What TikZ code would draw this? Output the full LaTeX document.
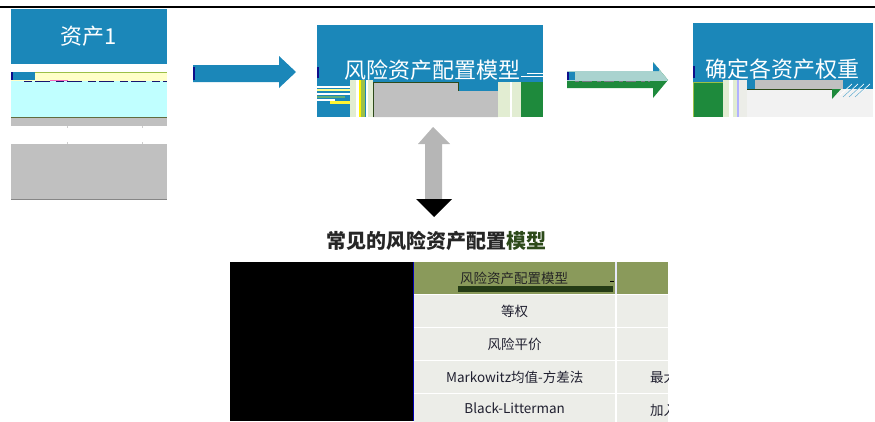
\documentclass[tikz,border=0pt]{standalone}
\usepackage{fontspec}
\setmainfont{Noto Sans CJK SC}
\usetikzlibrary{positioning}
\definecolor{boxblue}{HTML}{1B87B9}
\definecolor{gblue}{HTML}{0E0E8A}
\definecolor{ggray}{HTML}{C0C0C0}
\definecolor{gcyan}{HTML}{C0FFFF}
\definecolor{gyellow}{HTML}{FFFFC8}
\definecolor{ggreen}{HTML}{1E8A3C}
\definecolor{gpale}{HTML}{E2EDD2}
\definecolor{glime}{HTML}{9CC048}
\definecolor{gteal}{HTML}{A9D3CF}
\definecolor{olive}{HTML}{8A9A5B}
\definecolor{cellc}{HTML}{ECEDE8}
\definecolor{mgreen}{HTML}{2D4A1A}
\definecolor{tdark}{HTML}{202030}
\definecolor{lgray}{HTML}{F2F2F2}
\tikzset{
  bluebox/.style={fill=boxblue, draw=none, inner sep=0pt, text=white, font=\fontsize{22}{26}\selectfont},
  cellbox/.style={fill=cellc, draw=none, inner sep=0pt, text=tdark, font=\fontsize{13.5}{16}\selectfont},
  hdrbox/.style={fill=olive, draw=none, inner sep=0pt},
  celltext/.style={inner sep=0pt, text=tdark, font=\fontsize{13.5}{16}\selectfont},
}
\begin{document}
\begin{tikzpicture}[x=1pt,y=-1pt]
\useasboundingbox (0,0) rectangle (875,421);
% top rule
\draw[line width=2pt] (0,7) -- (875,7);

% ---------- box 1 ----------
\node[bluebox, minimum width=156pt, minimum height=55pt] (b1) at (89,36.5) {资产1};
\fill[gyellow] (11,72) rectangle (167,81);
\draw[glime, line width=0.8pt] (11,72.4) -- (167,72.4);
\fill[boxblue] (11,72) rectangle (35,80);
\fill[gblue] (11,72) rectangle (12.5,80);
\fill[gcyan] (11,81) rectangle (167,117);
\draw[line width=0.9pt, color=tdark!70!blue, dash pattern=on 8pt off 3pt on 15pt off 6pt] (24,81.3) -- (167,81.3);
\draw[line width=0.8pt, color=magenta!60] (50,80.6) -- (68,80.6);
\draw[line width=0.8pt, color=olive!70!black] (11,117.5) -- (167,117.5);
\fill[ggray] (11,118) rectangle (167,126);
\draw[ggray!80, line width=0.6pt] (67,126) -- (67,128) (142,126) -- (142,128) (67,142) -- (67,144) (142,142) -- (142,144);
\fill[ggray] (11,144) rectangle (167,199);
\draw[ggray!70!black, line width=0.7pt] (11,199) -- (167,199);

% ---------- arrow 1 ----------
\fill[boxblue] (193,65) -- (279,65) -- (279,56) -- (296,72) -- (279,88) -- (279,82) -- (193,82) -- cycle;
\fill[gblue] (193,67) rectangle (194.5,80);

% ---------- box 2 ----------
\node[bluebox, minimum width=226pt, minimum height=92pt] (b2) at (430,71) {};
\node[inner sep=0pt, text=white, font=\fontsize{22}{26}\selectfont] (t2) at (432,70) {风险资产配置模型};
\fill[gblue] (317,67) rectangle (318.5,78);
% left stripes
\fill[white] (317,86) rectangle (350,88);
\fill[gyellow!70!yellow] (317,89) rectangle (350,91);
\fill[white] (317,93) rectangle (350,95);
\fill[ggreen!70] (317,96) rectangle (345,98);
\fill[white] (317,99) rectangle (335,101);
\fill[yellow!80] (330,101) rectangle (350,104);
% vertical stripes
\fill[gpale] (350,80) rectangle (356,117);
\fill[white] (356,80) rectangle (359,117);
\fill[yellow] (359,80) rectangle (361,117);
\fill[glime] (361,80) rectangle (365,117);
\fill[white] (366,80) rectangle (368,117);
\fill[gpale] (368,80) rectangle (373,117);
% gray block
\fill[ggray] (373,82) -- (458,82) -- (458,91) -- (498,91) -- (498,117) -- (373,117) -- cycle;
\draw[mgreen, line width=0.7pt] (373,117) -- (373,82) -- (458,82) -- (458,91);
% right stripes
\fill[gpale] (498,82) rectangle (510,117);
\fill[white] (510,82) rectangle (512,117);
\fill[gpale] (512,82) rectangle (521,117);
\fill[ggreen] (521,82) rectangle (543,117);
\draw[white, line width=0.6pt] (527,73) -- (543,73) (521,76) -- (543,76);

% ---------- arrow 2 ----------
\fill[ggreen] (567,71) -- (653,71) -- (653,62) -- (668,80) -- (653,98) -- (653,88) -- (567,88) -- cycle;
\begin{scope}
\clip (560,55) rectangle (680,80.5);
\fill[gteal] (567,71) -- (653,71) -- (653,62) -- (668,80) -- (653,98) -- (653,88) -- (567,88) -- cycle;
\end{scope}
\fill[boxblue] (653,62.5) -- (659,69) -- (659,71) -- (653,71) -- cycle;
\fill[boxblue] (567,72) rectangle (575,80);
\fill[gblue] (567,72) rectangle (568.5,80);
\draw[line width=0.7pt, color=tdark!60, dash pattern=on 4pt off 3pt on 10pt off 5pt] (575,81) -- (650,81);

% ---------- box 3 ----------
\node[bluebox, minimum width=180pt, minimum height=94pt] (b3) at (783,70) {};
\node[inner sep=0pt, text=white, font=\fontsize{22}{26}\selectfont] (t3) at (782.5,69.5) {确定各资产权重};
\fill[gblue] (693,66) rectangle (694.5,78);
\fill[ggreen] (693,82) rectangle (723,117);
\draw[glime, line width=0.7pt] (693.3,82) -- (693.3,117) (693,82.3) -- (723,82.3);
\fill[gpale] (723,80) rectangle (729,117);
\fill[white] (729,80) rectangle (733,117);
\fill[gpale] (733,80) rectangle (737,117);
\fill[blue!30] (737,80) rectangle (739,117);
\fill[cellc] (739,80) rectangle (747,117);
\fill[lgray] (747,89) rectangle (873,117);
\fill[ggray] (755,80) rectangle (843,89);
\draw[mgreen, line width=0.7pt] (747,89) -- (833,89);
\fill[ggreen] (832,89) -- (841,89) -- (832,99) -- cycle;
\draw[white, line width=0.7pt] (840,95) -- (852,84) (846,95) -- (858,84) (852,95) -- (864,84) (858,95) -- (870,84);
\draw[boxblue!70, line width=0.5pt] (843,97) -- (855,86) (849,97) -- (861,86) (855,97) -- (867,86);

% ---------- vertical double arrow ----------
\fill[ggray!95!black] (433,127) -- (450,144) -- (442,144) -- (442,199) -- (425,199) -- (425,144) -- (418,144) -- cycle;
\fill[black] (416,199) -- (452,199) -- (434,217) -- cycle;

% ---------- title ----------
\node[inner sep=0pt, font=\fontsize{20}{24}\selectfont\bfseries, text=black!85] (title) at (436,241) {常见的风险资产配置\textcolor{mgreen}{模型}};

% ---------- table ----------
\fill[black] (230,262) rectangle (413,421);
\draw[blue!70!black, line width=0.7pt] (413,262) -- (413,421);
\node[hdrbox, minimum width=201pt, minimum height=32pt, anchor=north west] (h1) at (414,262) {};
\fill[gpale!60!blue!20] (615,262) rectangle (617,294);
\node[hdrbox, minimum width=51pt, minimum height=32pt, anchor=north west] (h2) at (617,262) {};
\fill[mgreen!80!black] (458,286) rectangle (613,292);
\draw[black, line width=0.8pt] (610,281) -- (614,281);
\node[celltext, text=black!85] (ht) at (514,278) {风险资产配置模型};

\node[cellbox, minimum width=201pt, minimum height=31.5pt, anchor=north west] (r1) at (414,295) {等权};
\node[cellbox, minimum width=51pt, minimum height=31.5pt, anchor=north west] (r1b) at (617,295) {};
\node[cellbox, minimum width=201pt, minimum height=31.5pt, anchor=north west] (r2) at (414,328) {风险平价};
\node[cellbox, minimum width=51pt, minimum height=31.5pt, anchor=north west] (r2b) at (617,328) {};
\node[cellbox, minimum width=201pt, minimum height=31.5pt, anchor=north west] (r3) at (414,361) {Markowitz均值-方差法};
\node[cellbox, minimum width=51pt, minimum height=31.5pt, anchor=north west] (r3b) at (617,361) {};
\node[cellbox, minimum width=201pt, minimum height=28pt, anchor=north west] (r4) at (414,394) {Black-Litterman};
\node[cellbox, minimum width=51pt, minimum height=28pt, anchor=north west] (r4b) at (617,394) {};
\begin{scope}
\clip (617,294) rectangle (668,421);
\node[celltext, anchor=west] (c3) at (650,377) {最大};
\node[celltext, anchor=west] (c4) at (650,410) {加入};
\end{scope}
\end{tikzpicture}
\end{document}
